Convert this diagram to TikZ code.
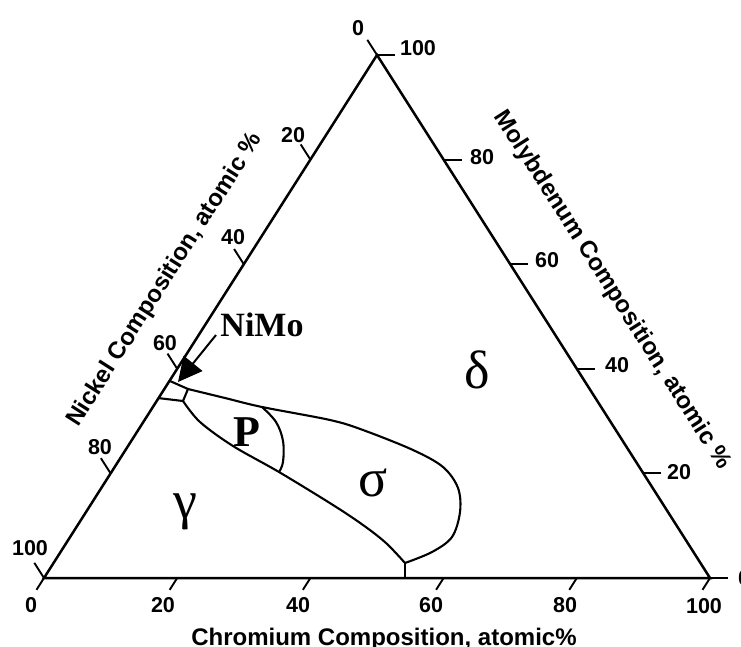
\documentclass[tikz,border=0pt]{standalone}
\usepackage{fontspec}
\setmainfont{Liberation Serif}
\newfontfamily\axisfont{Liberation Sans}
\usetikzlibrary{calc,arrows.meta}
\begin{document}
\begin{tikzpicture}[x=1pt,y=-1pt,
  edge/.style={line width=2.5pt, line join=miter},
  bound/.style={line width=2.1pt, line join=round, line cap=round},
  tickmark/.style={line width=1.9pt},
  num/.style={font=\axisfont\bfseries\fontsize{21.5}{22}\selectfont, inner sep=0pt},
  axtitle/.style={font=\axisfont\bfseries\fontsize{24}{26}\selectfont, inner sep=0pt},
  phase/.style={font=\fontsize{54}{60}\selectfont, inner sep=0pt},
  bphase/.style={font=\bfseries\fontsize{44}{50}\selectfont, inner sep=0pt},
]
\useasboundingbox (0,0) rectangle (741,646);

% vertices
\coordinate (Mo) at (377,55);
\coordinate (Ni) at (44,578);
\coordinate (Cr) at (710,578);
\draw[edge] (Mo) -- (Ni) -- (Cr) -- cycle;

% ticks
\foreach \k in {0,20,...,100} {
  \coordinate (cr\k) at ($(Ni)!\k/100!(Cr)$);
  \draw[tickmark] (cr\k) -- ++(-7.5,11.8);
  \coordinate (ni\k) at ($(Mo)!\k/100!(Ni)$);
  \draw[tickmark] (ni\k) -- ++(-9.7,-15.2);
  \coordinate (mo\k) at ($(Mo)!{1-\k/100}!(Cr)$);
  \draw[tickmark] (mo\k) -- ++(18,0);
}

% bottom labels (Cr)
\node[num] (lc0)   at (31,605)  {0};
\node[num] (lc20)  at (163,605) {20};
\node[num] (lc40)  at (298,605) {40};
\node[num] (lc60)  at (431,605) {60};
\node[num] (lc80)  at (565,605) {80};
\node[num] (lc100) at (704,606) {100};
% left labels (Ni)
\node[num] (ln0)   at (358,28)  {0};
\node[num] (ln20)  at (293,135) {20};
\node[num] (ln40)  at (233,237) {40};
\node[num] (ln60)  at (165,343) {60};
\node[num] (ln80)  at (100,447) {80};
\node[num] (ln100) at (30,548)  {100};
% right labels (Mo)
\node[num] (lm100) at (418,48)  {100};
\node[num] (lm80)  at (482,157) {80};
\node[num] (lm60)  at (547,260) {60};
\node[num] (lm40)  at (617,365) {40};
\node[num] (lm20)  at (679,472) {20};
\node[num] (lm0)   at (744,578) {0};

% axis titles
\node[axtitle, anchor=base] (tcr) at (384,645) {Chromium Composition, atomic\%};
\node[axtitle, rotate=57.5] (tni) at (165,280) {Nickel Composition, atomic \%};
\node[axtitle, rotate=-57.5] (tmo) at (612,290) {Molybdenum Composition, atomic \%};

% phase boundary key points
\coordinate (A) at ($(Mo)!0.623!(Ni)$);
\coordinate (D) at ($(Mo)!0.656!(Ni)$);
\coordinate (B) at (188,389);
\coordinate (C) at (183,401);
\coordinate (Pt) at (262,407);
\coordinate (Pb) at (279,472);
\coordinate (V) at (405,563);
\coordinate (Vb) at (405,578);

% NiMo box
\draw[bound] (A) -- (B) -- (C) -- (D);
% upper boundary of sigma / P
\draw[bound] plot[smooth, tension=0.55] coordinates {(B) (225,398) (Pt) (330,420) (363,430) (413,450) (443,467) (458,488) (460,512) (452,537) (432,552) (V)};
% lower boundary (gamma)
\draw[bound] plot[smooth, tension=0.55] coordinates {(C) (200,422) (233,446) (Pb) (333,505) (363,525) (386,543) (V)};
% P boundary
\draw[bound] plot[smooth, tension=0.6] coordinates {(Pt) (276,422) (283,441) (283,462) (Pb)};
% vertical to base
\draw[bound] (V) -- (Vb);

% arrow
\coordinate (arrS) at (216,335);
\coordinate (arrT) at (178,382);
\draw[line width=2pt, -{Triangle[length=24pt,width=24pt]}] (arrS) -- (arrT);

% phase labels
\node[font=\bfseries\fontsize{34}{38}\selectfont, inner sep=0pt] (lnimo) at (262,325) {NiMo};
\node[bphase] (lP) at (247,432) {P};
\node[phase] (lgamma) at (185,512) {γ};
\node[phase] (ldelta) at (477,370) {δ};
\node[phase] (lsigma) at (373,483) {σ};
\end{tikzpicture}
\end{document}
